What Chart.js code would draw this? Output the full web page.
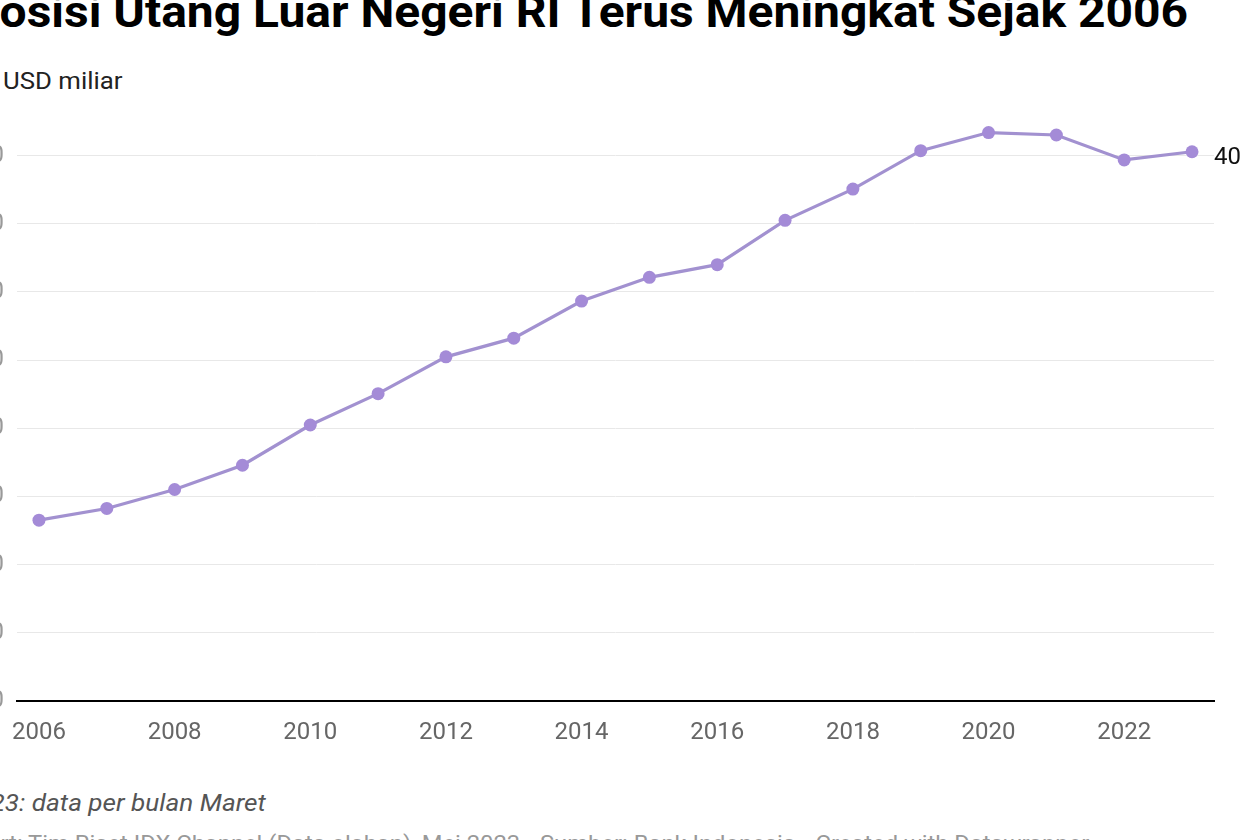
<!DOCTYPE html>
<html>
<head>
<meta charset="utf-8">
<script src="https://cdn.jsdelivr.net/npm/chart.js@4.4.0/dist/chart.umd.min.js"></script>
<style>
  html, body { margin:0; padding:0; width:1240px; height:840px; overflow:hidden; background:#fff; font-family:Roboto, sans-serif; }
  .abs { position:absolute; white-space:nowrap; transform-origin:0 0; }
  #title { left:-31px; top:-11px; font-size:45px; line-height:45px; font-weight:700; color:#000; transform:scaleX(1.066); }
  #unit { left:3px; top:69px; font-size:23px; line-height:26px; color:#222; transform:scaleX(1.12); }
  #note { left:-38px; top:789px; font-size:24px; line-height:28px; font-style:italic; color:#555; transform:scaleX(1.09); }
  #source { left:-41px; top:832px; font-size:22px; line-height:24px; color:#999; transform:scaleX(1.08); }
  #wrap { position:absolute; left:-60px; top:60px; width:1300px; height:700px; }
</style>
</head>
<body>
<div id="title" class="abs">Posisi Utang Luar Negeri RI Terus Meningkat Sejak 2006</div>
<div id="unit" class="abs">USD miliar</div>
<div id="wrap"><canvas id="c"></canvas></div>
<div id="note" class="abs">2023: data per bulan Maret</div>
<div id="source" class="abs">Chart: Tim Riset IDX Channel (Data olahan), Mei 2023 • Sumber: Bank Indonesia • Created with Datawrapper</div>
<script>
const years = [2006,2007,2008,2009,2010,2011,2012,2013,2014,2015,2016,2017,2018,2019,2020,2021,2022,2023];
const debtValues = [132.6,141.2,155.1,172.9,202.4,225.4,252.4,266.1,293.3,310.7,320.0,352.5,375.4,403.6,416.9,415.1,396.8,402.8];
const xTickYears = [2006,2008,2010,2012,2014,2016,2018,2020,2022];
const yTickValues = [0,50,100,150,200,250,300,350,400];

const endLabel = {
  id: 'endLabel',
  afterDatasetsDraw(chart) {
    const meta = chart.getDatasetMeta(0);
    const last = meta.data[meta.data.length - 1];
    const v = debtValues[debtValues.length - 1];
    const ctx = chart.ctx;
    ctx.save();
    ctx.font = '24px Roboto';
    ctx.fillStyle = '#111';
    ctx.textAlign = 'left';
    ctx.textBaseline = 'middle';
    ctx.fillText(String(Math.round(v)), last.x + 22, last.y + 6);
    ctx.restore();
  }
};

new Chart(document.getElementById('c'), {
  type: 'line',
  data: {
    datasets: [{
      data: years.map((y, i) => ({ x: y, y: debtValues[i] })),
      borderColor: '#a291d0',
      backgroundColor: '#a48bd7',
      pointBackgroundColor: '#a48bd7',
      pointBorderWidth: 0,
      pointRadius: 6.5,
      borderWidth: 3.2,
      tension: 0,
      clip: false
    }]
  },
  options: {
    responsive: true,
    maintainAspectRatio: false,
    animation: false,
    layout: { padding: { top: 22.5, right: 26, left: 0, bottom: 0 } },
    plugins: { legend: { display: false }, tooltip: { enabled: false } },
    scales: {
      x: {
        type: 'linear',
        min: 2005.676,
        max: 2023.324,
        afterBuildTicks: (s) => { s.ticks = xTickYears.map(v => ({ value: v })); },
        afterFit: (s) => { s.height = 59; },
        grid: { display: false, drawTicks: false },
        border: { color: '#000', width: 2 },
        ticks: { color: '#666', font: { family: 'Roboto', size: 24 }, padding: 18, callback: (v) => String(v), maxRotation: 0, autoSkip: false }
      },
      y: {
        min: 0,
        max: 450,
        afterBuildTicks: (s) => { s.ticks = yTickValues.map(v => ({ value: v })); },
        afterFit: (s) => { s.width = 77; },
        grid: { color: '#e8e8e8', lineWidth: 1, drawTicks: false },
        border: { display: false },
        ticks: { color: '#999', font: { family: 'Roboto', size: 24 }, padding: 13, callback: (v) => String(v) }
      }
    }
  },
  plugins: [endLabel]
});
</script>
</body>
</html>
